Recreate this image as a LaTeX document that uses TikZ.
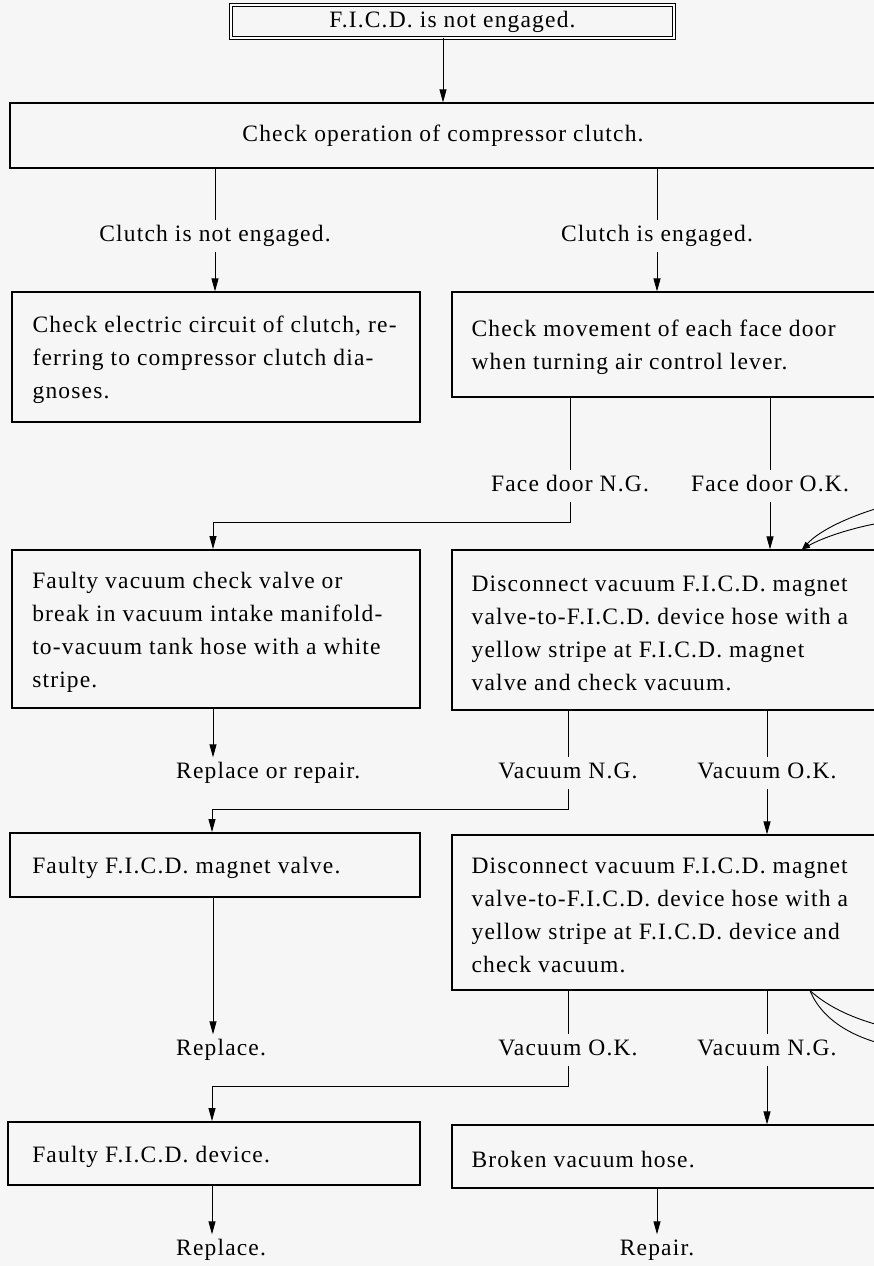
\documentclass[tikz,border=0pt]{standalone}
\usepackage{fontspec}
\setmainfont[LetterSpace=5]{Liberation Serif}
\usetikzlibrary{arrows.meta}
\definecolor{paper}{RGB}{246,246,246}
\begin{document}
\begin{tikzpicture}[x=1pt,y=-1pt,
  txtfont/.style={font=\fontsize{23.5}{33}\selectfont},
  box/.style={draw=black, line width=1.2pt, rectangle, inner sep=0pt},
  boxbold/.style={box, line width=1.9pt},
  txt/.style={txtfont, align=left, inner sep=0pt, anchor=west, yshift=-3pt},
  lbl/.style={txtfont, inner xsep=0pt, inner ysep=6pt, text height=15pt, text depth=4pt},
  ln/.style={line width=0.9pt},
  arr/.style={ln, -{Triangle[length=13pt,width=7pt]}},
  arrs/.style={ln, -{Triangle[length=8pt,width=5pt]}}]
\fill[paper] (0,0) rectangle (874,1266);
\clip (0,0) rectangle (874,1266);
% top
\node[box, double, double distance=2.5pt, line width=0.9pt, minimum width=443, minimum height=33, txtfont] (top) at (452.5,21.5) {F.I.C.D. is not engaged.};
\node[box, minimum width=900, minimum height=65, txtfont] (chk) at (460,135.5) {\hspace*{-34pt}Check operation of compressor clutch.};
\coordinate (x1) at (443,0);
\draw[arr] (top.south -| x1) -- (chk.north -| x1);
% clutch labels
\node[lbl] (cne) at (215,236) {Clutch is not engaged.};
\node[lbl] (ce) at (657,236) {Clutch is engaged.};
\draw[ln] (chk.south -| cne) -- (cne.north);
\draw[ln] (chk.south -| ce) -- (ce.north);
% row A/B
\node[box, minimum width=408, minimum height=130] (A) at (216,357) {};
\node[txt] (Atx) at ([xshift=21pt]A.west) {Check electric circuit of clutch, re-\\ferring to compressor clutch dia-\\gnoses.};
\node[box, minimum width=458, minimum height=105] (B) at (681,344.5) {};
\node[txt] (Btx) at ([xshift=20pt]B.west) {Check movement of each face door\\when turning air control lever.};
\draw[arr] (cne.south) -- (cne.south |- A.north);
\draw[arr] (ce.south) -- (ce.south |- B.north);
% face door labels
\node[lbl] (fng) at (570,486) {Face door N.G.};
\node[lbl] (fok) at (770,486) {Face door O.K.};
\draw[ln] (B.south -| fng) -- (fng.north);
\draw[ln] (B.south -| fok) -- (fok.north);
% row C/D
\node[boxbold, minimum width=408, minimum height=158] (C) at (216,629) {};
\node[txt] (Ctx) at ([xshift=21pt]C.west) {Faulty vacuum check valve or\\break in vacuum intake manifold-\\to-vacuum tank hose with a white\\stripe.};
\node[box, minimum width=458, minimum height=160] (D) at (681,630) {};
\node[txt] (Dtx) at ([xshift=20pt]D.west) {Disconnect vacuum F.I.C.D. magnet\\valve-to-F.I.C.D. device hose with a\\yellow stripe at F.I.C.D. magnet\\valve and check vacuum.};
\draw[arr] (fng.south) -- ++(0,21) -| ([xshift=-3pt]C.north);
\draw[arr] (fok.south) -- (fok.south |- D.north);
% incoming curves at D
\coordinate (dx) at (802,0);
\coordinate (in1) at (885,506);
\coordinate (in2) at (885,522);
\draw[arrs] (in1) .. controls (850,516) and (820,530) .. (D.north -| dx);
\draw[arrs] (in2) .. controls (850,528) and (822,538) .. (D.north -| dx);
% labels row 3
\node[lbl, anchor=west] (rr) at (176,773) {Replace or repair.};
\node[lbl] (vng1) at (568,773) {Vacuum N.G.};
\node[lbl] (vok1) at (767,773) {Vacuum O.K.};
\draw[arr] ([xshift=-3pt]C.south) -- ([xshift=-3pt]C.south |- rr.north);
\draw[ln] (D.south -| vng1) -- (vng1.north);
\draw[ln] (D.south -| vok1) -- (vok1.north);
% row E/F
\node[boxbold, minimum width=410, minimum height=64] (E) at (215,865) {};
\node[txt] (Etx) at ([xshift=23pt]E.west) {Faulty F.I.C.D. magnet valve.};
\node[box, minimum width=458, minimum height=155] (F) at (681,912.5) {};
\node[txt] (Ftx) at ([xshift=20pt]F.west) {Disconnect vacuum F.I.C.D. magnet\\valve-to-F.I.C.D. device hose with a\\yellow stripe at F.I.C.D. device and\\check vacuum.};
\draw[arr] (vng1.south) -- ++(0,21) -| ([xshift=-3pt]E.north);
\draw[arr] (vok1.south) -- (vok1.south |- F.north);
% outgoing curves at F
\coordinate (fx) at (810,0);
\coordinate (out1) at (890,1028);
\coordinate (out2) at (890,1046);
\draw[ln] (F.south -| fx) .. controls (825,1004) and (848,1018) .. (out1);
\draw[ln] (F.south -| fx) .. controls (818,1010) and (838,1034) .. (out2);
% labels row 4
\node[lbl, anchor=west] (rp1) at (176,1050) {Replace.};
\node[lbl] (vok2) at (568,1050) {Vacuum O.K.};
\node[lbl] (vng2) at (767,1050) {Vacuum N.G.};
\draw[arr] ([xshift=-2pt]E.south) -- ([xshift=-2pt]E.south |- rp1.north);
\draw[ln] (F.south -| vok2) -- (vok2.north);
\draw[ln] (F.south -| vng2) -- (vng2.north);
% row G/H
\node[boxbold, minimum width=412, minimum height=63] (G) at (214,1153.5) {};
\node[txt] (Gtx) at ([xshift=25pt]G.west) {Faulty F.I.C.D. device.};
\node[box, minimum width=458, minimum height=63] (H) at (681,1156.5) {};
\node[txt] (Htx) at ([xshift=20pt]H.west) {Broken vacuum hose.};
\draw[arr] (vok2.south) -- ++(0,21) -| ([xshift=-2pt]G.north);
\draw[arr] (vng2.south) -- (vng2.south |- H.north);
% final labels
\node[lbl, anchor=west] (rp2) at (176,1250) {Replace.};
\node[lbl] (rpr) at (657,1250) {Repair.};
\draw[arr] ([xshift=-2pt]G.south) -- ([xshift=-2pt]G.south |- rp2.north);
\draw[arr] (H.south -| rpr) -- (rpr.north);
\end{tikzpicture}
\end{document}
